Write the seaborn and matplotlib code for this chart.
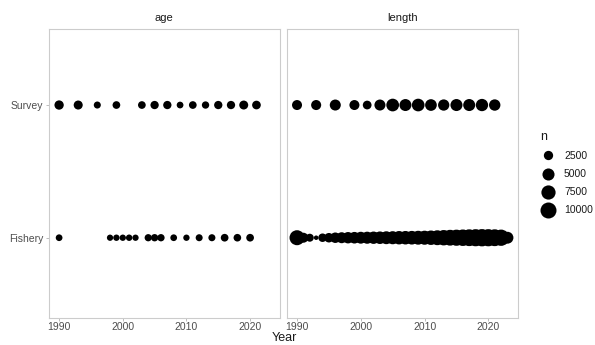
import numpy as np
import pandas as pd
import matplotlib
matplotlib.use("Agg")
import matplotlib.pyplot as plt
from matplotlib.colors import FuncNorm
from matplotlib.lines import Line2D
import seaborn as sns

# ---- data -------------------------------------------------------------
sources = ["Fishery", "Survey"]
panels = ["age", "length"]

age_fishery_year = [1990, 1998, 1999, 2000, 2001, 2002, 2004, 2005, 2006,
                    2008, 2010, 2012, 2014, 2016, 2018, 2020]
age_fishery_n = [950, 750, 800, 780, 820, 760, 1200, 1250, 1230,
                 950, 780, 1080, 1100, 1450, 1400, 1450]

age_survey_year = [1990, 1993, 1996, 1999, 2003, 2005, 2007, 2009, 2011,
                   2013, 2015, 2017, 2019, 2021]
age_survey_n = [2500, 2300, 1100, 1450, 1450, 1800, 1800, 950, 1450,
                1250, 1800, 1800, 2250, 2050]

length_fishery_year = list(range(1990, 2024))
length_fishery_n = [8560, 3050, 1620, 200, 1940, 2650, 3450, 3900, 4300, 4500,
                    4800, 5000, 5300, 5500, 5900, 6100, 6500, 6600, 6800, 7100,
                    7300, 7800, 8400, 9100, 9700, 10200, 10700, 11200, 11700, 12000,
                    11800, 11300, 10400, 4800]

length_survey_year = [1990, 1993, 1996, 1999, 2001, 2003, 2005, 2007, 2009,
                      2011, 2013, 2015, 2017, 2019, 2021]
length_survey_n = [3050, 3100, 3950, 3050, 2100, 3950, 5700, 4900, 5650,
                   4600, 4200, 4950, 4950, 5250, 4300]

x_ticks = [1990, 2000, 2010, 2020]
legend_breaks = [2500, 5000, 7500, 10000]

# ---- tidy table -------------------------------------------------------
frames = []
for panel, src, yrs, ns in [
    ("age", "Fishery", age_fishery_year, age_fishery_n),
    ("age", "Survey", age_survey_year, age_survey_n),
    ("length", "Fishery", length_fishery_year, length_fishery_n),
    ("length", "Survey", length_survey_year, length_survey_n),
]:
    frames.append(pd.DataFrame({"panel": panel, "source": src,
                                "Year": yrs, "n": ns}))
df = pd.concat(frames, ignore_index=True)
df["source"] = pd.Categorical(df["source"], categories=sources)

# ---- size scale: point diameter grows with sqrt(n) ----------------------
DPI = 100
PX_TO_PT = 72 / DPI
D0, D1 = 2.6, 0.134   # diameter (px) = D0 + D1 * sqrt(n)


def area_pt2(n):
    n = np.clip(np.asarray(n, dtype=float), 0, None)
    return ((D0 + D1 * np.sqrt(n)) * PX_TO_PT) ** 2


def area_inv(s):
    s = np.clip(np.asarray(s, dtype=float), 0, None)
    return ((np.sqrt(s) / PX_TO_PT - D0) / D1) ** 2


n_max = 12000
size_norm = FuncNorm((area_pt2, area_inv), vmin=0, vmax=n_max)
size_range = (float(area_pt2(0)), float(area_pt2(n_max)))

# ---- figure -----------------------------------------------------------
sns.set_theme(style="white")
plt.rcParams["font.family"] = ["Liberation Sans", "DejaVu Sans"]

W, H = 595, 345
fig = plt.figure(figsize=(W / DPI, H / DPI), dpi=DPI)
fig.patch.set_facecolor("white")

top_px, bottom_px = 29, 318
panel_px = [(48.6, 279.7), (286.5, 518.0)]
axes = []
for (l, r) in panel_px:
    ax = fig.add_axes([l / W, (H - bottom_px) / H, (r - l) / W,
                       (bottom_px - top_px) / H])
    axes.append(ax)

border = "#cccccc"
tick_col = "#b3b3b3"
lab_col = "#4d4d4d"

for i, (ax, panel) in enumerate(zip(axes, panels)):
    sub = df[df["panel"] == panel]
    sns.scatterplot(data=sub, x="Year", y="source", size="n",
                    sizes=size_range, size_norm=size_norm,
                    color="black", linewidth=0, edgecolor="none",
                    alpha=1, legend=False, ax=ax, zorder=3)
    ax.set_xlim(1988.35, 2024.65)
    ax.set_ylim(-0.605, 1.573)
    ax.set_xticks(x_ticks)
    ax.set_xticklabels([str(t) for t in x_ticks])
    ax.set_yticks([0, 1])
    ax.set_yticklabels(sources)
    ax.grid(False)
    ax.set_facecolor("white")
    for sp in ax.spines.values():
        sp.set_color(border)
        sp.set_linewidth(0.8)
    ax.tick_params(axis="both", which="both", length=2.2, width=0.6,
                   color=tick_col, labelcolor=lab_col, labelsize=7.5,
                   bottom=True, left=True, pad=1.6)
    ax.tick_params(axis="x", pad=1.0)
    ax.set_xlabel("")
    ax.set_ylabel("")
    ax.set_title(panel, fontsize=8, color="#1a1a1a", pad=6)
    if i == 1:
        ax.tick_params(axis="y", left=False, labelleft=False)

fig.text(284 / W, 0.002, "Year", ha="center", va="bottom",
         fontsize=9, color="#1a1a1a")

# ---- size legend ------------------------------------------------------
handles = [Line2D([], [], marker="o", linestyle="", color="black",
                  markeredgewidth=0, markersize=float(np.sqrt(area_pt2(b))))
           for b in legend_breaks]
leg = fig.legend(handles, [str(b) for b in legend_breaks], title="n",
                 loc="upper left", bbox_to_anchor=(540 / W, (H - 131) / H),
                 frameon=False, fontsize=7.5, title_fontsize=9,
                 handlelength=1.54, handletextpad=0.77, labelspacing=0.78,
                 borderpad=0, borderaxespad=0, alignment="left")
for t in leg.get_texts():
    t.set_color("#1a1a1a")
leg.get_title().set_color("#1a1a1a")

fig.savefig("out.png", dpi=DPI, facecolor="white")
